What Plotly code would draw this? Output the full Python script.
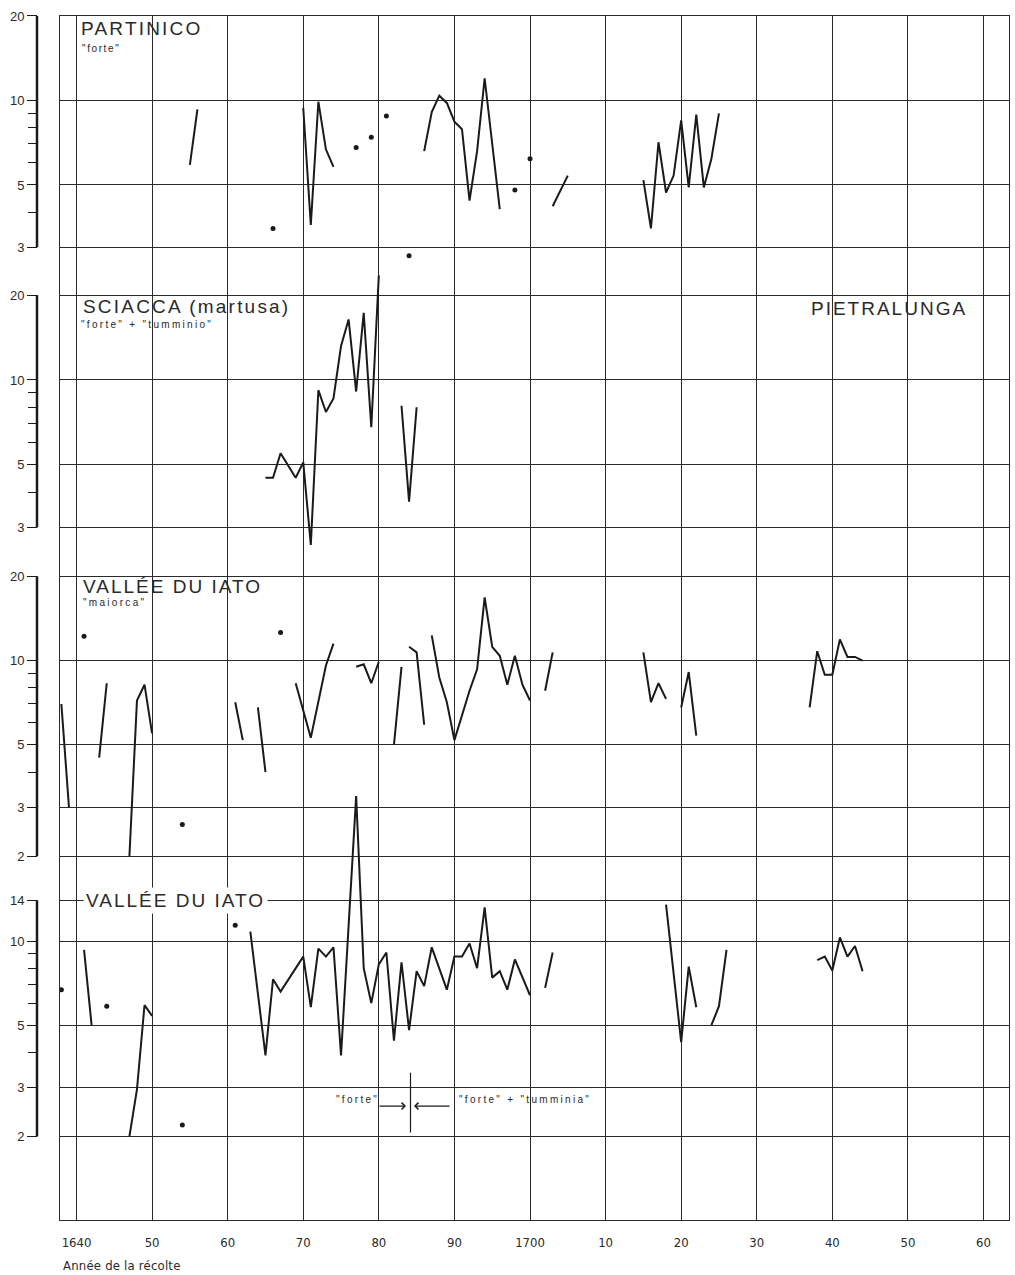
import math
import plotly.graph_objects as go

W, H = 1015, 1275

# ---------------- data ----------------
# PARTINICO  "forte"
partinico_years = [1655, 1656, None,
                   1670, 1671, 1672, 1673, 1674, None,
                   1686, 1687, 1688, 1689, 1690, 1691, 1692, 1693, 1694, 1695, 1696, None,
                   1703, 1705, None,
                   1715, 1716, 1717, 1718, 1719, 1720, 1721, 1722, 1723, 1724, 1725]
partinico_values = [5.9, 9.3, None,
                    9.4, 3.6, 9.9, 6.7, 5.8, None,
                    6.6, 9.1, 10.4, 9.8, 8.4, 7.9, 4.4, 6.6, 12.0, 7.0, 4.1, None,
                    4.2, 5.4, None,
                    5.2, 3.5, 7.1, 4.7, 5.4, 8.5, 4.9, 8.9, 4.9, 6.2, 9.0]
partinico_dot_years = [1666, 1677, 1679, 1681, 1684, 1698, 1700]
partinico_dot_values = [3.5, 6.8, 7.4, 8.8, 2.8, 4.8, 6.2]

# SCIACCA (martusa)  "forte" + "tumminio"
sciacca_years = [1665, 1666, 1667, 1668, 1669, 1670, 1671, 1672, 1673, 1674,
                 1675, 1676, 1677, 1678, 1679, 1680, None, 1683, 1684, 1685]
sciacca_values = [4.5, 4.5, 5.5, 5.0, 4.5, 5.1, 2.6, 9.2, 7.7, 8.6,
                  13.2, 16.4, 9.1, 17.3, 6.8, 23.5, None, 8.1, 3.7, 8.0]

# PIETRALUNGA
pietralunga_years = [1737, 1739, 1741, 1742, 1743, 1744, 1745, 1746, 1749, 1750,
                     1751, 1753, 1754, 1756, 1757, 1758, 1759, 1760, 1761, 1762, 1763]
pietralunga_values = [8.95, 6.25, 9.95, 8.6, 9.6, 9.0, 8.95, 5.7, 9.0, 13.0,
                      9.6, 8.35, 4.5, 10.1, 8.3, 7.9, 8.95, 4.9, 9.6, 5.7, 7.3]

# VALLEE DU IATO  "maiorca"
maiorca_years = [1638, 1639, None, 1643, 1644, None, 1647, 1648, 1649, 1650, None,
                 1661, 1662, None, 1664, 1665, None,
                 1669, 1671, 1673, 1674, None, 1677, 1678, 1679, 1680, None,
                 1682, 1683, None, 1684, 1685, 1686, None,
                 1687, 1688, 1689, 1690, 1692, 1693, 1694, 1695, 1696, 1697, 1698, 1699, 1700, None,
                 1702, 1703, None, 1715, 1716, 1717, 1718, None, 1720, 1721, 1722, None,
                 1737, 1738, 1739, 1740, 1741, 1742, 1743, 1744]
maiorca_values = [7.0, 3.0, None, 4.5, 8.3, None, 2.0, 7.2, 8.2, 5.5, None,
                  7.1, 5.2, None, 6.8, 4.0, None,
                  8.3, 5.3, 9.6, 11.5, None, 9.5, 9.7, 8.3, 9.9, None,
                  5.0, 9.5, None, 11.2, 10.7, 5.9, None,
                  12.3, 8.7, 7.1, 5.2, 7.8, 9.3, 16.8, 11.2, 10.4, 8.2, 10.4, 8.2, 7.2, None,
                  7.8, 10.7, None, 10.7, 7.1, 8.3, 7.3, None, 6.8, 9.1, 5.4, None,
                  6.8, 10.8, 8.9, 8.9, 11.9, 10.3, 10.3, 10.0]
maiorca_dot_years = [1641, 1654, 1667]
maiorca_dot_values = [12.2, 2.6, 12.6]

# VALLEE DU IATO  "forte" -> "forte" + "tumminia"
iato_years = [1641, 1642, None, 1647, 1648, 1649, 1650, None,
              1663, 1665, 1666, 1667, 1670, 1671, 1672, 1673, 1674, 1675, 1677, 1678,
              1679, 1680, 1681, 1682, 1683, 1684, 1685, 1686, 1687, 1688, 1689, 1690,
              1691, 1692, 1693, 1694, 1695, 1696, 1697, 1698, 1700, None,
              1702, 1703, None, 1718, 1720, 1721, 1722, None, 1724, 1725, 1726, None,
              1738, 1739, 1740, 1741, 1742, 1743, 1744]
iato_values = [9.3, 5.0, None, 2.0, 2.95, 5.9, 5.4, None,
               10.8, 3.9, 7.3, 6.6, 8.8, 5.8, 9.4, 8.8, 9.5, 3.9, 33.0, 8.0,
               6.0, 8.25, 9.1, 4.4, 8.4, 4.8, 7.8, 6.9, 9.5, 8.0, 6.7, 8.8,
               8.8, 9.8, 8.0, 13.2, 7.4, 7.8, 6.7, 8.6, 6.4, None,
               6.8, 9.1, None, 13.5, 4.35, 8.1, 5.8, None, 5.0, 5.85, 9.3, None,
               8.55, 8.8, 7.85, 10.3, 8.8, 9.6, 7.8]
iato_dot_years = [1638, 1644, 1654, 1661]
iato_dot_values = [6.7, 5.85, 2.2, 11.4]

x_tick_years = [1640, 1650, 1660, 1670, 1680, 1690, 1700, 1710, 1720, 1730, 1740, 1750, 1760]
x_tick_labels = ["1640", "50", "60", "70", "80", "90", "1700", "10", "20", "30", "40", "50", "60"]

# ---------------- layout helpers ----------------
PLOT_L, PLOT_R, PLOT_T, PLOT_B = 60, 1009, 12, 1220
AXIS_X = 37
X_AT_1640, X_AT_1760 = 76.5, 983.5
ppy = (X_AT_1760 - X_AT_1640) / 120.0
x_range = [1640 - (X_AT_1640 - PLOT_L) / ppy, 1760 + (PLOT_R - X_AT_1760) / ppy]


def cy(y):
    # slight vertical calibration of target pixel rows
    return (y - 3.0) / 0.9976


def px(x):
    return x / W


def py(y):
    return 1 - cy(y) / H


INK = "#1a1a1a"
GRID = "#2a2a2a"
TEXT = "#2a2a2a"

panels = [
    dict(axis="y2", ys=partinico_values, xs=partinico_years,
         dx=partinico_dot_years, dy=partinico_dot_values,
         top=(20, 12), bot=(3, 244), major=[3, 5, 10, 20], minor=[4, 6, 7, 8, 9]),
    dict(axis="y3", ys=sciacca_values, xs=sciacca_years, dx=[], dy=[],
         top=(20, 292), bot=(3, 525), major=[3, 5, 10, 20], minor=[4, 6, 7, 8, 9]),
    dict(axis="y4", ys=maiorca_values, xs=maiorca_years,
         dx=maiorca_dot_years, dy=maiorca_dot_values,
         top=(20, 574), bot=(2, 855), major=[2, 3, 5, 10, 20], minor=[4, 6, 7, 8, 9]),
    dict(axis="y5", ys=iato_values, xs=iato_years,
         dx=iato_dot_years, dy=iato_dot_values,
         top=(14, 899), bot=(2, 1136), major=[2, 3, 5, 10, 14], minor=[4, 6, 7, 8, 9]),
]

fig = go.Figure()
# base subplot (frame + vertical grid)
fig.add_trace(go.Scatter(x=[None], y=[None], xaxis="x", yaxis="y",
                         showlegend=False, hoverinfo="skip"))

shapes = []
layout_axes = {}
top_c, bot_c = cy(PLOT_T), cy(PLOT_B)
for i, p in enumerate(panels):
    fig.add_trace(go.Scatter(x=p["xs"], y=p["ys"], mode="lines", xaxis="x", yaxis=p["axis"],
                             line=dict(color=INK, width=2), connectgaps=False,
                             showlegend=False, hoverinfo="skip"))
    if p["dx"]:
        fig.add_trace(go.Scatter(x=p["dx"], y=p["dy"], mode="markers", xaxis="x",
                                 yaxis=p["axis"], marker=dict(color=INK, size=5),
                                 showlegend=False, hoverinfo="skip"))
    (vt, pt), (vb, pb) = p["top"], p["bot"]
    pt_c, pb_c = cy(pt), cy(pb)
    ppd = (pb_c - pt_c) / math.log10(vt / vb)
    r_top = math.log10(vt) + (pt_c - top_c) / ppd + 1e-6
    r_bot = math.log10(vt) - (bot_c - pt_c) / ppd
    key = "yaxis" + p["axis"][1:]
    layout_axes[key] = dict(
        type="log", range=[r_bot, r_top], overlaying="y", anchor="free",
        position=px(AXIS_X), side="left", showline=False,
        tickmode="array", tickvals=p["major"], ticktext=[str(v) for v in p["major"]],
        ticks="outside", ticklen=10, tickwidth=1, tickcolor=INK,
        tickfont=dict(family="Liberation Sans, Arial, sans-serif", size=13, color=TEXT),
        showgrid=True, gridcolor=GRID, gridwidth=1, zeroline=False,
        minor=dict(tickmode="array", tickvals=p["minor"], ticks="outside",
                   ticklen=9, tickwidth=1, tickcolor=INK, showgrid=False),
    )
    shapes.append(dict(type="line", xref="paper", yref="paper",
                       x0=px(AXIS_X), x1=px(AXIS_X), y0=py(pt), y1=py(pb),
                       line=dict(color=INK, width=2.5)))

# '"forte"' -> | <- '"forte" + "tumminia"' marker in the last panel
shapes.append(dict(type="line", xref="paper", yref="paper",
                   x0=px(410.5), x1=px(410.5), y0=py(1072), y1=py(1132),
                   line=dict(color=INK, width=1.2)))

TITLE_FONT = "Liberation Sans, Arial, sans-serif"
COND_FONT = "DejaVu Sans Condensed, Liberation Sans Narrow, sans-serif"


def spaced(t, sp):
    return '<span style="letter-spacing:%spx">%s</span>' % (sp, t)


annotations = []


def add_text(text, x, y, size, sp, bg=None, family=TITLE_FONT):
    a = dict(text=spaced(text, sp), x=px(x), y=py(y), xref="paper", yref="paper",
             xanchor="left", yanchor="middle", showarrow=False,
             font=dict(family=family, size=size, color=TEXT))
    if bg:
        a.update(bgcolor=bg, borderpad=2)
    annotations.append(a)


add_text("PARTINICO", 79, 24.5, 19, 2.2)
add_text('"forte"', 80, 45, 10, 1.6)
add_text("SCIACCA (martusa)", 81, 303.5, 19, 2.2)
add_text('"forte" + "tumminio"', 79, 321.5, 10, 2.3)
add_text("PIETRALUNGA", 809, 305, 19, 2.0)
add_text("VALLÉE DU IATO", 81, 584, 19, 2.0)
add_text('"maiorca"', 81, 600, 10, 2.3)
add_text("VALLÉE DU IATO", 83, 899, 19, 2.0, bg="white")
add_text('"forte"', 334, 1099, 10, 2.3)
add_text('"forte" + "tumminia"', 457, 1099, 10, 2.3)
add_text("Année de la récolte", 61, 1265, 13, 0.2, family=COND_FONT)

# arrows
annotations.append(dict(text="", x=px(406), y=py(1105.5), xref="paper", yref="paper",
                        showarrow=True, ax=-28, ay=0, arrowhead=4, arrowsize=1.2,
                        arrowwidth=1.1, arrowcolor=INK))
annotations.append(dict(text="", x=px(414), y=py(1105.5), xref="paper", yref="paper",
                        showarrow=True, ax=37, ay=0, arrowhead=4, arrowsize=1.2,
                        arrowwidth=1.1, arrowcolor=INK))

fig.update_layout(
    width=W, height=H, autosize=False,
    margin=dict(l=0, r=0, t=0, b=0),
    paper_bgcolor="white", plot_bgcolor="white",
    showlegend=False, hovermode=False,
    xaxis=dict(domain=[px(PLOT_L), px(PLOT_R)], range=x_range, anchor="y",
               tickmode="array", tickvals=x_tick_years, ticktext=x_tick_labels,
               ticks="", ticklabelstandoff=10,
               tickfont=dict(family=COND_FONT, size=13, color=TEXT),
               showgrid=True, gridcolor=GRID, gridwidth=1, zeroline=False,
               showline=True, mirror=True, linecolor=GRID, linewidth=1),
    yaxis=dict(domain=[py(PLOT_B), py(PLOT_T)], range=[0, 1], showticklabels=False,
               ticks="", showgrid=False, zeroline=False,
               showline=True, mirror=True, linecolor=GRID, linewidth=1),
    shapes=shapes, annotations=annotations,
    **layout_axes,
)

fig.write_html("out.html")
